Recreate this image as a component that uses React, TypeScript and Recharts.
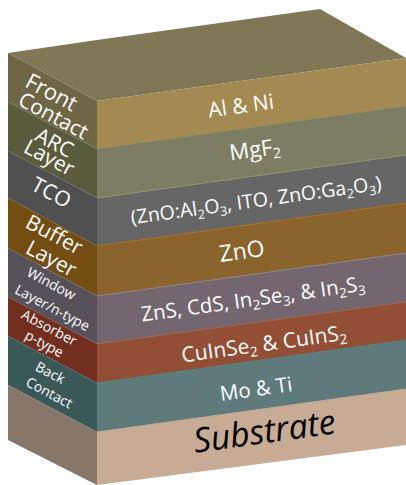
import React from "react";
import { ComposedChart, Area, Line, XAxis, YAxis, ReferenceDot } from "recharts";

const W = 406;
const H = 485;

const layerNames = ["Front Contact", "ARC Layer", "TCO", "Buffer Layer", "Window Layer", "Absorber", "Back Contact", "Substrate"];
const frontColors = ["#a38a52", "#7c7d63", "#666666", "#8a642c", "#73666f", "#934f36", "#5f7a7b", "#c7ab94"];
const sideColors = ["#6f6645", "#5a5b3c", "#505050", "#744d12", "#57515a", "#722f20", "#3a5858", "#87766a"];
const seamColors = ["#8c8760", "#8f8f6a", "#b06a20", "#8a8088", "#a0604c", "#4d8084", "#b9a490"];

const xStops = [8, 97, 406];
const leftEdgeY = [53, 102, 151, 198, 248, 297, 336, 385, 440];
const cornerY = [101, 149, 198, 246, 296, 344, 383, 432, 485];
const rightEdgeY = [58, 106, 155, 203, 253, 302, 340, 389, 445];

const topX = [8, 97, 320, 406];
const topLow = [53, 101, 70, 58];
const topHigh = [53, 40, 9, 58];

const sideData = layerNames.map((_, i) => [
  { x: xStops[0], r: [leftEdgeY[i], leftEdgeY[i + 1]] },
  { x: xStops[1], r: [cornerY[i], cornerY[i + 1]] },
]);
const frontData = layerNames.map((_, i) => [
  { x: xStops[1], r: [cornerY[i], cornerY[i + 1]] },
  { x: xStops[2], r: [rightEdgeY[i], rightEdgeY[i + 1]] },
]);
const topData = topX.map((x, i) => ({ x, r: [topLow[i], topHigh[i]] }));
const seamData = seamColors.map((_, i) => [
  { x: xStops[1], s: cornerY[i === 2 ? 3 : i + 1] },
  { x: xStops[2], s: rightEdgeY[i === 2 ? 3 : i + 1] },
]);

type Run = { t: string; sub?: boolean };
const frontLabels: { runs: Run[]; x: number; y: number; size: number; italic?: boolean; black?: boolean }[] = [
  { runs: [{ t: "Al & Ni" }], x: 242, y: 113, size: 21 },
  { runs: [{ t: "MgF" }, { t: "2", sub: true }], x: 256, y: 157, size: 22 },
  { runs: [{ t: "(ZnO:Al" }, { t: "2", sub: true }, { t: "O" }, { t: "3", sub: true }, { t: ", ITO, ZnO:Ga" }, { t: "2", sub: true }, { t: "O" }, { t: "3", sub: true }, { t: ")" }], x: 257, y: 207, size: 19.6 },
  { runs: [{ t: "ZnO" }], x: 243, y: 259, size: 23 },
  { runs: [{ t: "ZnS, CdS, In" }, { t: "2", sub: true }, { t: "Se" }, { t: "3", sub: true }, { t: ", & In" }, { t: "2", sub: true }, { t: "S" }, { t: "3", sub: true }], x: 254, y: 306, size: 20.5 },
  { runs: [{ t: "CuInSe" }, { t: "2", sub: true }, { t: " & CuInS" }, { t: "2", sub: true }], x: 265, y: 351, size: 21 },
  { runs: [{ t: "Mo & Ti" }], x: 257, y: 396, size: 20.5 },
  { runs: [{ t: "Substrate" }], x: 266, y: 443, size: 34, italic: true, black: true },
];
const sideLabels: { t: string; x: number; y: number; size: number }[] = [
  { t: "Front", x: 48, y: 99, size: 22 },
  { t: "Contact", x: 50, y: 122, size: 21 },
  { t: "ARC", x: 51, y: 149, size: 21 },
  { t: "Layer", x: 46, y: 164, size: 21 },
  { t: "TCO", x: 48, y: 199, size: 21 },
  { t: "Buffer", x: 51, y: 241, size: 21 },
  { t: "Layer", x: 48, y: 265, size: 21 },
  { t: "Window", x: 49, y: 288, size: 14 },
  { t: "Layer/n-type", x: 50, y: 312, size: 14 },
  { t: "Absorber", x: 47, y: 332, size: 14 },
  { t: "p-type", x: 42, y: 348, size: 14 },
  { t: "Back", x: 48, y: 377, size: 14 },
  { t: "Contact", x: 47, y: 397, size: 14 },
];

const FONT = "'Open Sans', sans-serif";

function FrontText({ cx, cy, item }: any) {
  return (
    <text
      x={cx}
      y={cy}
      textAnchor="middle"
      transform={`rotate(-7.9 ${cx} ${cy})`}
      fontFamily={FONT}
      fontSize={item.size}
      fontStyle={item.italic ? "italic" : "normal"}
      fill={item.black ? "#000000" : "#ffffff"}
    >
      {item.runs.map((r: Run, i: number) => (
        <tspan key={i} fontSize={r.sub ? item.size * 0.65 : item.size} dy={r.sub ? 4 : i > 0 && item.runs[i - 1].sub ? -4 : 0}>
          {r.t}
        </tspan>
      ))}
    </text>
  );
}

function SideText({ cx, cy, item }: any) {
  return (
    <text
      x={cx}
      y={cy}
      textAnchor="middle"
      transform={`rotate(28 ${cx} ${cy})`}
      fontFamily={FONT}
      fontSize={item.size}
      fill="#ffffff"
    >
      {item.t}
    </text>
  );
}

export default function App() {
  return (
    <div style={{ position: "absolute", left: 0, top: 0, width: W, height: H }}>
      <ComposedChart width={W} height={H} margin={{ top: 0, right: 0, bottom: 0, left: 0 }} data={topData}>
        <XAxis dataKey="x" type="number" domain={[0, W]} hide allowDataOverflow />
        <YAxis type="number" domain={[0, H]} reversed hide allowDataOverflow />
        <Area data={topData} dataKey="r" type="linear" fill="#807756" fillOpacity={1} stroke="none" dot={false} activeDot={false} isAnimationActive={false} />
        {layerNames.map((n, i) => (
          <Area key={"s" + n} data={sideData[i]} dataKey="r" type="linear" fill={sideColors[i]} fillOpacity={1} stroke="none" dot={false} activeDot={false} isAnimationActive={false} />
        ))}
        {layerNames.map((n, i) => (
          <Area key={"f" + n} data={frontData[i]} dataKey="r" type="linear" fill={frontColors[i]} fillOpacity={1} stroke="none" dot={false} activeDot={false} isAnimationActive={false} />
        ))}
        {seamData.map((d, i) => (
          <Line key={"l" + i} data={d} dataKey="s" type="linear" stroke={seamColors[i]} strokeWidth={1.2} dot={false} activeDot={false} isAnimationActive={false} />
        ))}
        {frontLabels.map((item, i) => (
          <ReferenceDot key={"fl" + i} x={item.x} y={item.y} r={0} shape={(p: any) => <FrontText cx={p.cx} cy={p.cy} item={item} />} />
        ))}
        {sideLabels.map((item, i) => (
          <ReferenceDot key={"sl" + i} x={item.x} y={item.y} r={0} shape={(p: any) => <SideText cx={p.cx} cy={p.cy} item={item} />} />
        ))}
      </ComposedChart>
    </div>
  );
}
